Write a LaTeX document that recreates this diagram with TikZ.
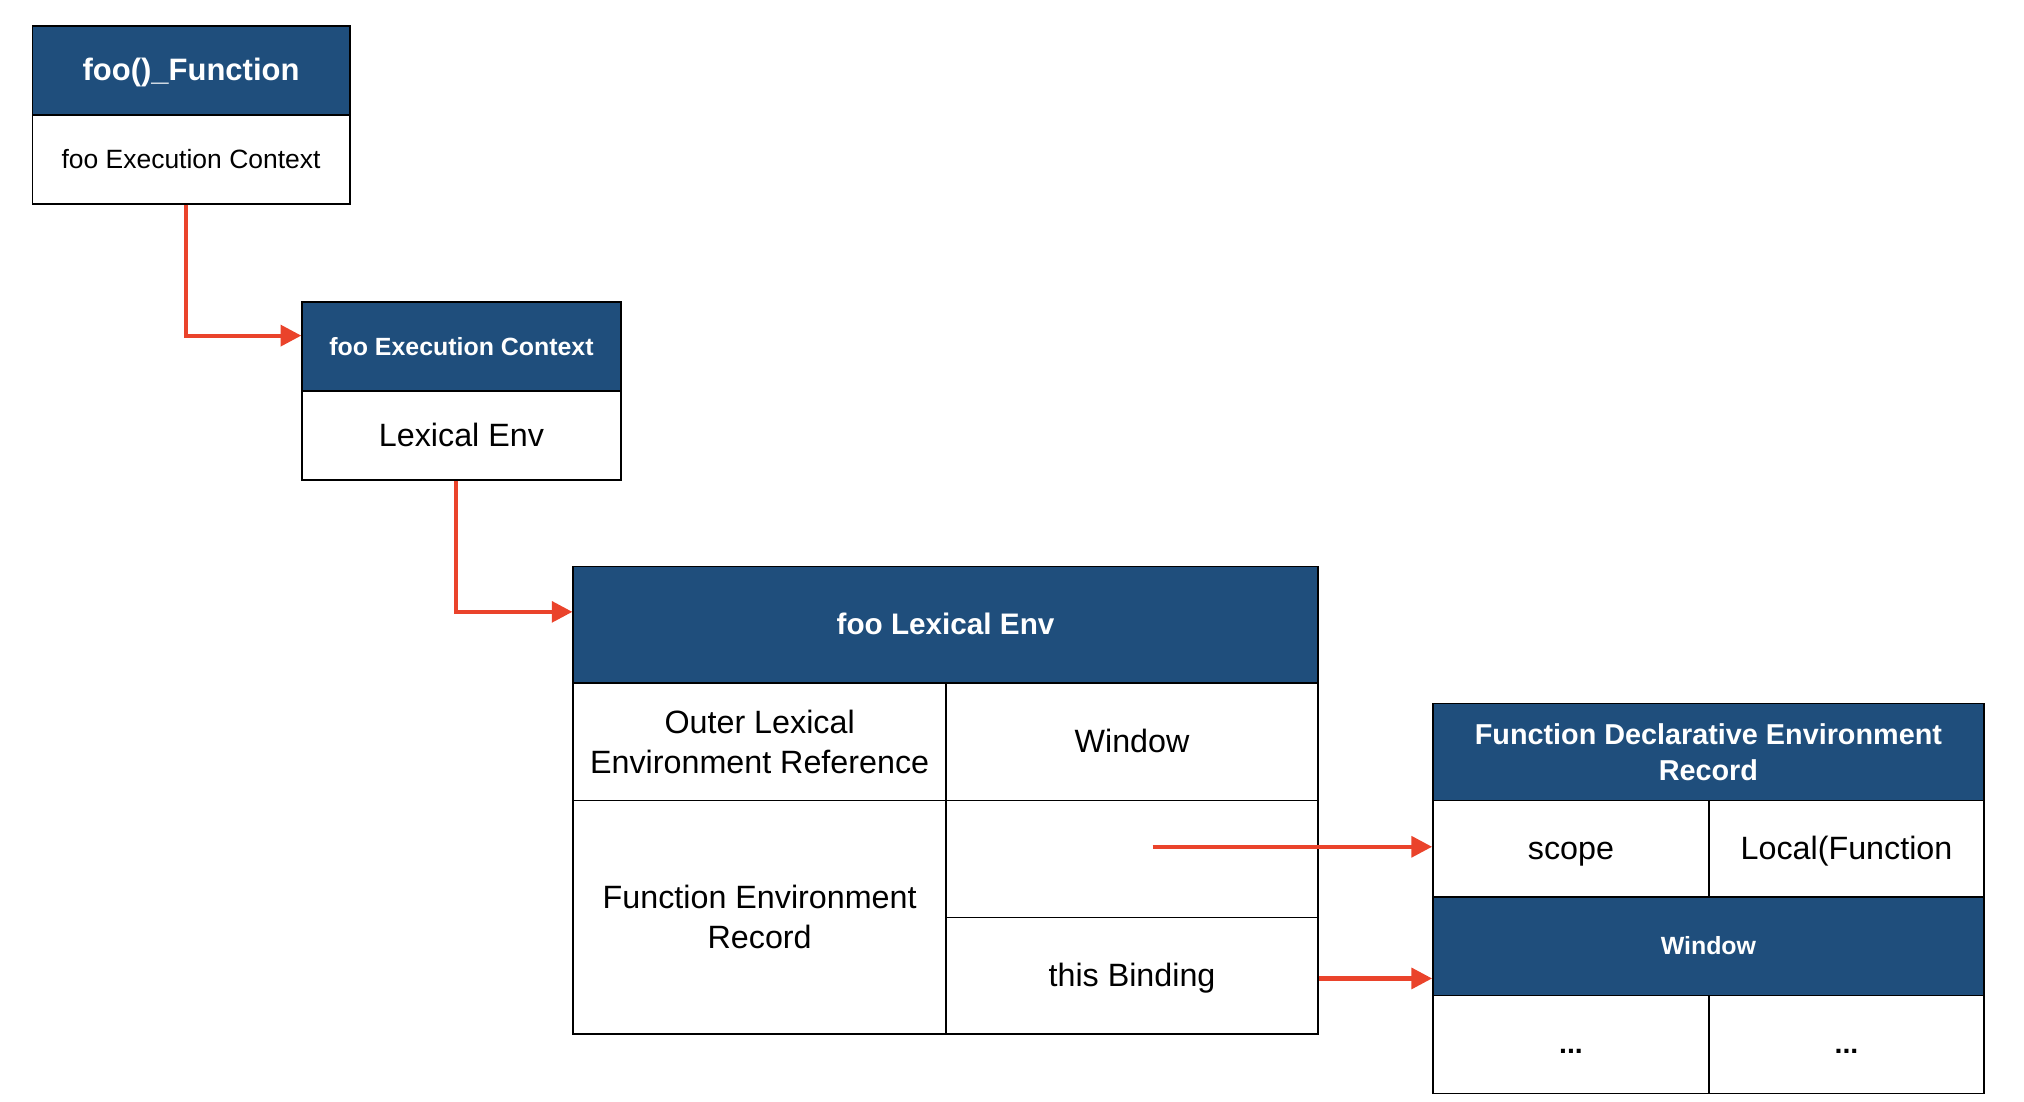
\documentclass[tikz,border=0pt]{standalone}
\usepackage{fontspec}
\setmainfont{Liberation Sans}
\usetikzlibrary{arrows.meta}
\definecolor{hdrblue}{RGB}{31,78,124}
\definecolor{arrred}{RGB}{234,67,43}
\tikzset{
  cell/.style={draw=black, line width=1.1pt, fill=white, inner sep=0pt, align=center, text=black,
    font=\fontsize{25}{31}\selectfont},
  hdr/.style={cell, fill=hdrblue, text=white},
  oneline/.style={text height={#1*0.88pt}, text depth={#1*0.2pt}},
  arr/.style={draw=arrred, line width=3.2pt, -{Triangle[length=16pt,width=16pt]}}
}
\begin{document}
\begin{tikzpicture}[x=1pt,y=-1pt]
\useasboundingbox (0,0) rectangle (1568,853.7);
% box 1
\node[hdr, oneline=24, minimum width=246pt, minimum height=69pt, font=\fontsize{24}{28}\selectfont\bfseries] (h1) at (148,54.5) {foo()\_Function};
\node[cell, oneline=20.5, minimum width=246pt, minimum height=69pt, font=\fontsize{20.5}{25}\selectfont] (b1) at (148,123.5) {foo Execution Context};
% box 2
\node[hdr, oneline=19.3, minimum width=247pt, minimum height=69pt, font=\fontsize{19.3}{24}\selectfont\bfseries] (h2) at (357.5,268.5) {foo Execution Context};
\node[cell, oneline=25, minimum width=247pt, minimum height=69pt] (b2) at (357.5,337.5) {Lexical Env};
% box 3
\node[hdr, oneline=23, minimum width=577pt, minimum height=90pt, font=\fontsize{23}{28}\selectfont\bfseries] (h3) at (732.5,484) {foo Lexical Env};
\node[cell, minimum width=289pt, minimum height=91pt] (c31) at (588.5,574.5) {Outer Lexical\\Environment Reference};
\node[cell, oneline=25, minimum width=288pt, minimum height=91pt] (c32) at (877,574.5) {Window};
\node[cell, minimum width=289pt, minimum height=181pt] (c33) at (588.5,710.5) {Function Environment\\Record};
\node[cell, minimum width=288pt, minimum height=91pt] (c34) at (877,665.5) {};
\node[cell, oneline=25, minimum width=288pt, minimum height=90pt] (c35) at (877,756) {this Binding};
% box 4
\node[hdr, minimum width=427pt, minimum height=75pt, font=\fontsize{22.3}{28}\selectfont\bfseries] (h4) at (1323.5,582.5) {Function Declarative Environment\\Record};
\node[cell, oneline=25, minimum width=214pt, minimum height=75pt] (c41) at (1217,657.5) {scope};
\node[cell, oneline=25, minimum width=213pt, minimum height=75pt] (c42) at (1430.5,657.5) {Local(Function};
\node[hdr, oneline=19.3, minimum width=427pt, minimum height=76pt, font=\fontsize{19.3}{24}\selectfont\bfseries] (h5) at (1323.5,733) {Window};
\node[cell, oneline=22, minimum width=214pt, minimum height=76pt, font=\fontsize{22}{26}\selectfont\bfseries] (c43) at (1217,809) {...};
\node[cell, oneline=22, minimum width=213pt, minimum height=76pt, font=\fontsize{22}{26}\selectfont\bfseries] (c44) at (1430.5,809) {...};
% arrows
\draw[arr] ([xshift=-4pt]b1.south) |- ([yshift=8.5pt]h2.west);
\draw[arr] ([xshift=-4.5pt]b2.south) |- ([yshift=10pt]h3.west);
\coordinate (s3) at (893,656);
\draw[arr] (s3) -- (s3 -| c41.west);
\draw[arr] ([yshift=-2pt]c35.east) -- ([yshift=-2pt]c35.east -| h5.west);
\end{tikzpicture}
\end{document}
